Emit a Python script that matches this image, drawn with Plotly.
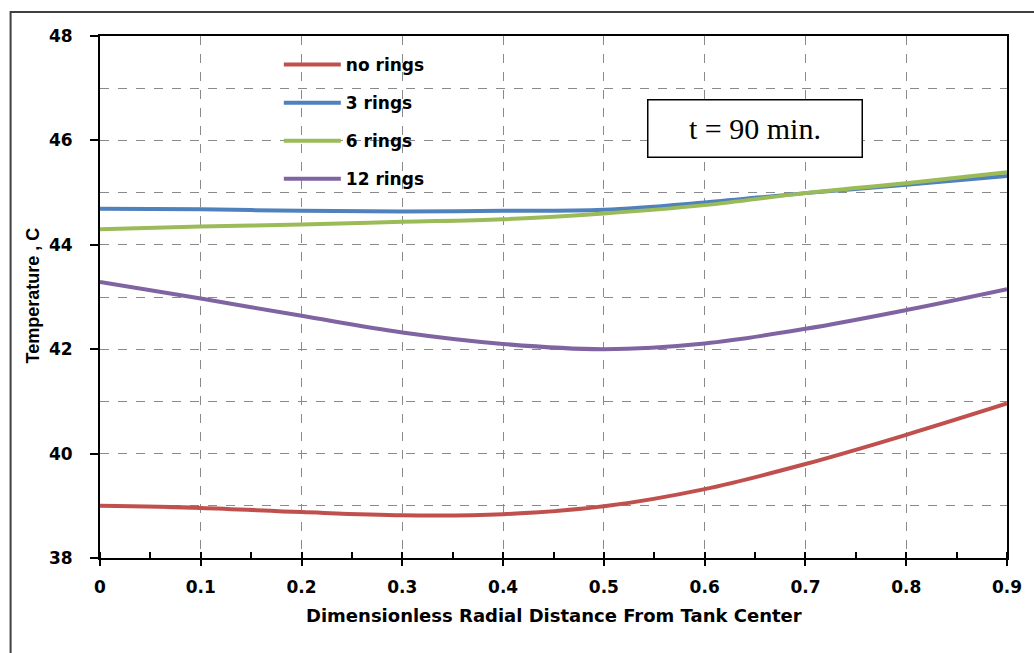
import plotly.graph_objects as go

# Radial positions (dimensionless distance from tank center)
radial = [0.0, 0.1, 0.2, 0.3, 0.4, 0.5, 0.6, 0.7, 0.8, 0.9]

# Temperature profiles (deg C) at t = 90 min
temp_no_rings = [39.00, 38.96, 38.88, 38.82, 38.84, 38.99, 39.32, 39.80, 40.36, 40.96]
temp_3_rings = [44.69, 44.68, 44.65, 44.64, 44.65, 44.67, 44.81, 44.99, 45.15, 45.32]
temp_6_rings = [44.30, 44.35, 44.39, 44.44, 44.49, 44.60, 44.76, 44.99, 45.18, 45.39]
temp_12_rings = [43.29, 42.97, 42.64, 42.32, 42.10, 42.00, 42.11, 42.39, 42.75, 43.15]

series_names = ["no rings", "3 rings", "6 rings", "12 rings"]
series_data = [temp_no_rings, temp_3_rings, temp_6_rings, temp_12_rings]
series_colors = ["#C0504D", "#4F81BD", "#9BBB59", "#8064A2"]

y_ticks = [38, 40, 42, 44, 46, 48]
x_ticks = [0, 0.1, 0.2, 0.3, 0.4, 0.5, 0.6, 0.7, 0.8, 0.9]
x_tick_labels = ["0", "0.1", "0.2", "0.3", "0.4", "0.5", "0.6", "0.7", "0.8", "0.9"]

BOLD = "DejaVu Sans"
GRID = "#8a8a8a"

fig = go.Figure()
for i, (name, vals, color) in enumerate(zip(series_names, series_data, series_colors)):
    fig.add_trace(go.Scatter(
        x=radial, y=vals, name=name, mode="lines",
        line=dict(color=color, width=4, shape="spline", smoothing=1.0),
        legendgroup=f"g{i}",
    ))

fig.update_layout(
    width=1034, height=653,
    margin=dict(l=100, r=21, t=36, b=95),
    paper_bgcolor="white", plot_bgcolor="white",
    showlegend=True,
    legend=dict(
        x=(280 - 100) / 913, y=1 - (47 - 36) / 522,
        xanchor="left", yanchor="top",
        bgcolor="rgba(0,0,0,0)", borderwidth=0,
        font=dict(family=BOLD, size=17, color="black", weight="bold"),
        traceorder="grouped", tracegroupgap=13, itemwidth=57,
    ),
    xaxis=dict(
        range=[0, 0.9], tickvals=x_ticks, ticktext=x_tick_labels,
        showgrid=True, gridcolor=GRID, griddash="dash", gridwidth=1,
        showline=True, linecolor="black", linewidth=2, mirror=True,
        ticks="outside", ticklen=6, tickwidth=2, tickcolor="black",
        ticklabelstandoff=7,
        minor=dict(dtick=0.05, tick0=0, ticks="inside", ticklen=6,
                   tickwidth=2, tickcolor="black", showgrid=False),
        tickfont=dict(family=BOLD, size=17, color="black", weight="bold"),
        zeroline=False,
    ),
    yaxis=dict(
        range=[38, 48], tickvals=y_ticks,
        showgrid=True, gridcolor=GRID, griddash="dash", gridwidth=1,
        showline=True, linecolor="black", linewidth=2, mirror=True,
        ticks="outside", ticklen=8, tickwidth=2, tickcolor="black",
        ticklabelstandoff=14,
        minor=dict(dtick=1, tick0=38, ticks="", showgrid=True,
                   gridcolor=GRID, griddash="dash", gridwidth=1),
        tickfont=dict(family=BOLD, size=17, color="black", weight="bold"),
        zeroline=False,
    ),
)

# Axis titles
fig.add_annotation(
    text="Dimensionless Radial Distance From Tank Center",
    xref="paper", yref="paper", x=(557 - 100) / 913, y=1 - (615 - 36) / 522,
    xanchor="center", yanchor="middle", showarrow=False,
    font=dict(family=BOLD, size=18, color="black", weight="bold"),
)
fig.add_annotation(
    text="Temperature , C",
    xref="paper", yref="paper", x=(33 - 100) / 913, y=1 - (295 - 36) / 522,
    xanchor="center", yanchor="middle", showarrow=False, textangle=-90,
    font=dict(family="Liberation Sans Narrow, Liberation Sans", size=18,
              color="black", weight="bold"),
)

# Time label box
fig.add_annotation(
    text="t = 90 min.",
    xref="paper", yref="paper", x=(759 - 100) / 913, y=1 - (128.5 - 36) / 522,
    xanchor="center", yanchor="middle", showarrow=False,
    width=211, height=54, bgcolor="white",
    bordercolor="black", borderwidth=1.5, borderpad=1,
    font=dict(family="Liberation Serif", size=30, color="black"),
)

# Outer chart frame
fig.add_shape(
    type="rect", xref="paper", yref="paper",
    x0=(10 - 100) / 913, x1=(1045 - 100) / 913,
    y0=1 - (665 - 36) / 522, y1=1 - (12 - 36) / 522,
    line=dict(color="#404040", width=2), fillcolor="rgba(0,0,0,0)",
    layer="below",
)

fig.write_html("out.html")
